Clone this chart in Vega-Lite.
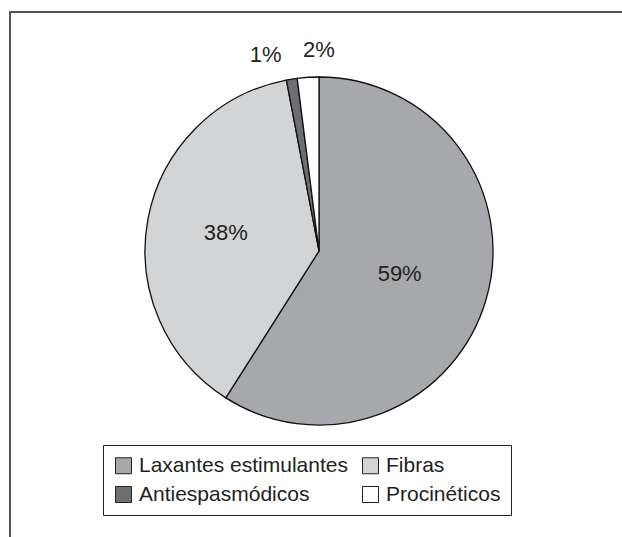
{
  "$schema": "https://vega.github.io/schema/vega-lite/v6.json",
  "width": 618,
  "height": 478,
  "padding": {"left": 10, "top": 12, "right": -6, "bottom": 47},
  "autosize": {"type": "none"},
  "background": "white",
  "config": {
    "view": {"stroke": null},
    "font": "Liberation Sans",
    "text": {"font": "Liberation Sans"}
  },
  "data": {
    "values": [
      {"categoria": "Laxantes estimulantes", "value": 59, "label": "59%", "idx": 1},
      {"categoria": "Fibras", "value": 38, "label": "38%", "idx": 2},
      {"categoria": "Antiespasmódicos", "value": 1, "label": "1%", "idx": 3},
      {"categoria": "Procinéticos", "value": 2, "label": "2%", "idx": 4}
    ]
  },
  "layer": [
    {
      "transform": [{"aggregate": [{"op": "count", "as": "n"}]}],
      "mark": {"type": "rect", "fill": null, "stroke": "#555555", "strokeWidth": 2, "strokeDash": [618, 1143, 525]},
      "encoding": {"y": {"value": 0}, "y2": {"value": 525}}
    },
    {
      "mark": {"type": "arc", "outerRadius": 174, "stroke": "#111111", "strokeWidth": 1.3},
      "encoding": {
        "theta": {"field": "value", "type": "quantitative", "stack": true, "scale": {"domain": [0, 100]}},
        "order": {"field": "idx", "type": "quantitative"},
        "color": {
          "field": "categoria",
          "type": "nominal",
          "sort": ["Laxantes estimulantes", "Fibras", "Antiespasmódicos", "Procinéticos"],
          "scale": {
            "domain": ["Laxantes estimulantes", "Fibras", "Antiespasmódicos", "Procinéticos"],
            "range": ["#a7a8ab", "#d3d4d6", "#6d6e71", "#ffffff"]
          },
          "legend": {
            "title": null,
            "orient": "none",
            "legendX": 93,
            "legendY": 433,
            "columns": 2,
            "direction": "horizontal",
            "strokeColor": "#222222",
            "padding": 10,
            "symbolType": "square",
            "symbolSize": 256,
            "symbolStrokeColor": "#222222",
            "symbolStrokeWidth": 1,
            "labelFontSize": 21,
            "labelFont": "Liberation Sans",
            "labelColor": "#231f20",
            "labelOffset": 5,
            "labelLimit": 400,
            "columnPadding": 12,
            "rowPadding": 7
          }
        }
      }
    },
    {
      "mark": {"type": "text", "radius": 95, "fontSize": 22, "fill": "#231f20", "font": "Liberation Sans"},
      "encoding": {
        "theta": {"field": "value", "type": "quantitative", "stack": true, "scale": {"domain": [0, 100]}},
        "order": {"field": "idx", "type": "quantitative"},
        "text": {"condition": {"test": "datum.label == '38%'", "field": "label"}, "value": ""}
      }
    },
    {
      "mark": {"type": "text", "radius": 84, "fontSize": 22, "fill": "#231f20", "font": "Liberation Sans"},
      "encoding": {
        "theta": {"field": "value", "type": "quantitative", "stack": true, "scale": {"domain": [0, 100]}},
        "order": {"field": "idx", "type": "quantitative"},
        "text": {"condition": {"test": "datum.label == '59%'", "field": "label"}, "value": ""}
      }
    },
    {
      "transform": [
        {"stack": "value", "groupby": [], "sort": [{"field": "idx", "order": "ascending"}], "as": ["v0", "v1"]},
        {"filter": "datum.label == '1%'"}
      ],
      "mark": {"type": "text", "radius": 200, "fontSize": 22, "fill": "#231f20", "align": "right", "font": "Liberation Sans"},
      "encoding": {
        "theta": {"field": "v0", "type": "quantitative", "stack": null, "scale": {"domain": [0, 100]}},
        "text": {"field": "label"}
      }
    },
    {
      "transform": [
        {"stack": "value", "groupby": [], "sort": [{"field": "idx", "order": "ascending"}], "as": ["v0", "v1"]},
        {"filter": "datum.label == '2%'"}
      ],
      "mark": {"type": "text", "radius": 201, "fontSize": 22, "fill": "#231f20", "font": "Liberation Sans"},
      "encoding": {
        "theta": {"field": "v1", "type": "quantitative", "stack": null, "scale": {"domain": [0, 100]}},
        "text": {"field": "label"}
      }
    }
  ]
}
